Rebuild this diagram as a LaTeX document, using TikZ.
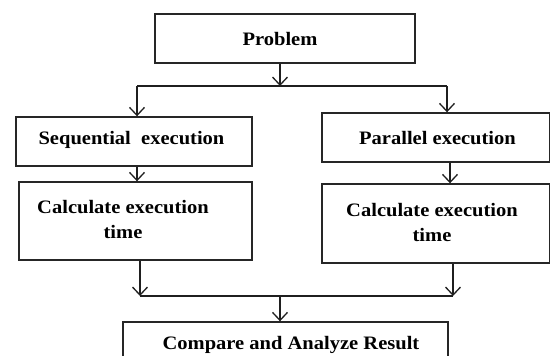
\documentclass[tikz,border=0pt]{standalone}
\usepackage{fontspec}
\setmainfont{Liberation Serif}[FakeStretch=1.08]
\usetikzlibrary{arrows.meta}
\begin{document}
\begin{tikzpicture}[x=1pt,y=-1pt,
  box/.style={draw=black!85,line width=1.4pt,rectangle,inner sep=0pt},
  lbl/.style={font=\fontsize{19}{25}\selectfont\bfseries,align=center,inner sep=0pt},
  conn/.style={draw=black!88,line width=1.3pt},
  arr/.style={conn,-{Straight Barb[length=8pt,width=15pt,line width=1.3pt]}}]
\useasboundingbox[fill=white] (0,0) rectangle (550,356);
\begin{scope}
\clip (0,0) rectangle (550,356);
% boxes
\node[box,minimum width=260pt,minimum height=49pt] (prob) at (285,38.5) {};
\node[box,minimum width=236pt,minimum height=49pt] (seq) at (134,141.5) {};
\node[box,minimum width=228pt,minimum height=49pt] (par) at (436,137.5) {};
\node[box,minimum width=233pt,minimum height=78pt] (calcL) at (135.5,221) {};
\node[box,minimum width=228pt,minimum height=79pt] (calcR) at (436,223.5) {};
\node[box,minimum width=325pt,minimum height=44pt] (cmp) at (285.5,344) {};
% texts
\node[lbl] (tprob) at (280,39) {Problem};
\node[lbl] (tseq) at (131.5,140) {Sequential\ \ execution};
\node[lbl] (tpar) at (437.5,138) {Parallel execution};
\node[lbl] (tcalcL) at (123,220) {Calculate execution\\time};
\node[lbl] (tcalcR) at (432,222) {Calculate execution\\time};
\node[lbl] (tcmp) at (291,345) {Compare and Analyze Result};
% connectors
\coordinate (top) at (280,86);
\coordinate (sL) at (137,86);
\coordinate (sR) at (447,86);
\draw[arr] (prob.south -| top) -- (top);
\draw[conn] (sL) -- (sR);
\draw[arr] (sL) -- (sL |- seq.north);
\draw[arr] (sR) -- (sR |- par.north);
\coordinate (aL) at (137,0);
\coordinate (aR) at (450,0);
\draw[arr] (seq.south -| aL) -- (calcL.north -| aL);
\draw[arr] (par.south -| aR) -- (calcR.north -| aR);
\coordinate (jL) at (140,296);
\coordinate (jR) at (453,296);
\coordinate (jM) at (280,296);
\draw[arr] (calcL.south -| jL) -- (jL);
\draw[arr] (calcR.south -| jR) -- (jR);
\draw[conn] (jL) -- (jR);
\draw[arr] (jM) -- (jM |- cmp.north);
\end{scope}
\end{tikzpicture}
\end{document}
